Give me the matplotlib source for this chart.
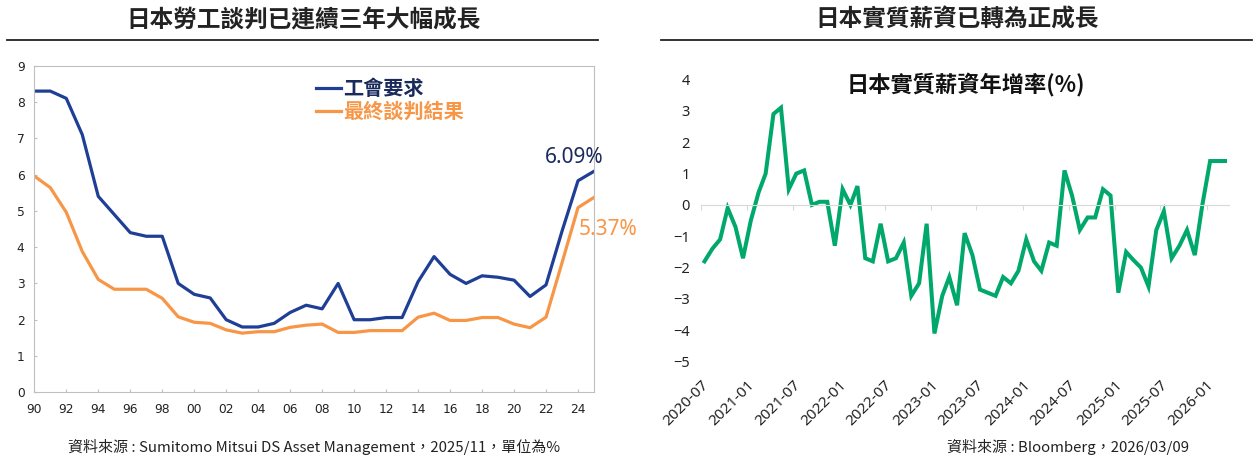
import numpy as np
import pandas as pd
import matplotlib
matplotlib.use("Agg")
import matplotlib.pyplot as plt
import matplotlib.dates as mdates
from matplotlib.lines import Line2D

plt.rcParams['font.family'] = ['Noto Sans CJK TC', 'DejaVu Sans']

# 左圖：春鬥 工會要求 vs 最終談判結果
years = np.arange(1990, 2026)
union_demand = [8.3, 8.3, 8.1, 7.1, 5.4, 4.9, 4.4, 4.3, 4.3, 3.0,
                2.7, 2.6, 2.0, 1.8, 1.8, 1.9, 2.2, 2.4, 2.3, 3.0,
                2.0, 2.0, 2.06, 2.06, 3.05, 3.74, 3.25, 3.0, 3.21, 3.17,
                3.09, 2.64, 2.96, 4.44, 5.83, 6.09]
final_result = [5.96, 5.64, 4.96, 3.88, 3.11, 2.84, 2.84, 2.84, 2.59, 2.08,
                1.93, 1.9, 1.72, 1.63, 1.67, 1.67, 1.79, 1.85, 1.88, 1.65,
                1.65, 1.7, 1.7, 1.7, 2.07, 2.18, 1.98, 1.98, 2.06, 2.06,
                1.88, 1.78, 2.07, 3.57, 5.09, 5.37]
left_xticks = np.arange(1990, 2025, 2)
left_xlabels = [f"{y % 100:02d}" for y in left_xticks]

# 右圖：日本實質薪資年增率
months = pd.date_range("2020-07-01", periods=69, freq="MS") + pd.Timedelta(days=14)
real_wage = [-1.8, -1.4, -1.1, -0.1, -0.7, -1.7,
             -0.5, 0.4, 1.0, 2.9, 3.1, 0.5, 1.0, 1.1, 0.0, 0.1, 0.1, -1.3,
             0.5, 0.0, 0.6, -1.7, -1.8, -0.6, -1.8, -1.7, -1.2, -2.9, -2.5, -0.6,
             -4.1, -2.9, -2.3, -3.2, -0.9, -1.6, -2.7, -2.8, -2.9, -2.3, -2.5, -2.1,
             -1.1, -1.8, -2.1, -1.2, -1.3, 1.1, 0.3, -0.8, -0.4, -0.4, 0.5, 0.3,
             -2.8, -1.5, -1.75, -2.0, -2.6, -0.8, -0.2, -1.7, -1.3, -0.8, -1.6, 0.0,
             1.4, 1.4, 1.4]

BLUE = "#1f3f96"
ORANGE = "#f79646"
NAVY = "#1b2a5c"
GREEN = "#00a86b"

W, H = 1257, 457
fig = plt.figure(figsize=(W / 100, H / 100), dpi=100)

# ---- titles + rules
fig.text(304 / W, 1 - 20 / H, "日本勞工談判已連續三年大幅成長", ha="center", va="center",
         fontsize=17, fontweight="bold", color="#222222")
fig.text(957 / W, 1 - 20 / H, "日本實質薪資已轉為正成長", ha="center", va="center",
         fontsize=17, fontweight="bold", color="#222222")
fig.add_artist(Line2D([7 / W, 598 / W], [1 - 40 / H, 1 - 40 / H], color="#222222", lw=1.3))
fig.add_artist(Line2D([661 / W, 1252 / W], [1 - 40 / H, 1 - 40 / H], color="#222222", lw=1.3))

# ---- left chart
ax1 = fig.add_axes([34.3 / W, (H - 392.3) / H, (594 - 34.3) / W, (392.3 - 65.7) / H])
ax1.plot(years, union_demand, color=BLUE, lw=2.3, label="工會要求")
ax1.plot(years, final_result, color=ORANGE, lw=2.3, label="最終談判結果")
ax1.set_xlim(1990, 2025)
ax1.set_ylim(0, 9)
ax1.set_yticks(range(0, 10))
ax1.set_xticks(left_xticks)
ax1.set_xticklabels(left_xlabels)
for s in ax1.spines.values():
    s.set_color("#bfbfbf")
ax1.tick_params(direction="in", length=2.5, color="#bfbfbf", labelsize=8.8,
                labelcolor="#222222", labelfontfamily="DejaVu Sans")
ax1.tick_params(axis="x", pad=8)
ax1.tick_params(axis="y", pad=7)

leg = ax1.legend(loc="upper left", bbox_to_anchor=(306 / W, 1 - 68 / H),
                 bbox_transform=fig.transFigure, frameon=False, borderpad=0,
                 handlelength=1.25, handletextpad=0.08, labelspacing=0.1,
                 prop={"size": 14.5, "weight": "bold"},
                 labelcolor=[NAVY, ORANGE])

ax1.annotate("6.09%", xy=(years[-1], union_demand[-1]), xytext=(9, 14),
             textcoords="offset pixels", ha="right", va="center",
             fontsize=15, color=NAVY, family=["Noto Sans", "DejaVu Sans"],
             annotation_clip=False)
ax1.annotate("5.37%", xy=(years[-1], final_result[-1]), xytext=(-15, -32),
             textcoords="offset pixels", ha="left", va="center",
             fontsize=15, color=ORANGE, family=["Noto Sans", "DejaVu Sans"],
             annotation_clip=False)

fig.text(314 / W, 1 - 447 / H, "資料來源 : Sumitomo Mitsui DS Asset Management，2025/11，單位為%",
         ha="center", va="center", fontsize=10.8, color="#222222")

# ---- right chart
ax2 = fig.add_axes([701 / W, (H - 361.7) / H, (1229 - 701) / W, (361.7 - 79.5) / H])
ax2.plot(months, real_wage, color=GREEN, lw=2.9, solid_joinstyle="miter")
ax2.set_xlim(pd.Timestamp("2020-07-01"), pd.Timestamp("2026-03-31"))
ax2.set_ylim(-5, 4)
ax2.set_yticks(range(-5, 5))
for side in ("top", "right", "left"):
    ax2.spines[side].set_visible(False)
ax2.spines["bottom"].set_position(("data", 0))
ax2.spines["bottom"].set_color("#d9d9d9")
ax2.xaxis.set_major_locator(mdates.MonthLocator(bymonth=(1, 7)))
ax2.xaxis.set_major_formatter(mdates.DateFormatter("%Y-%m"))
ax2.tick_params(axis="x", direction="out", length=3.4, color="#d9d9d9", pad=121,
                labelsize=11, labelcolor="#222222")
ax2.tick_params(axis="y", length=0, pad=8, labelsize=10.5, labelcolor="#222222")
for lab in ax2.get_xticklabels():
    lab.set_rotation(45)
    lab.set_ha("right")
    lab.set_rotation_mode("anchor")
for lab in ax2.get_xticklabels() + ax2.get_yticklabels():
    lab.set_family(["Noto Sans", "DejaVu Sans"])

fig.text(966 / W, 1 - 85 / H, "日本實質薪資年增率(%)", ha="center", va="center",
         fontsize=16, fontweight="bold", color="#111111")
fig.text(1068 / W, 1 - 447 / H, "資料來源 : Bloomberg，2026/03/09",
         ha="center", va="center", fontsize=10.8, color="#222222")

fig.savefig("out.png", dpi=100)
